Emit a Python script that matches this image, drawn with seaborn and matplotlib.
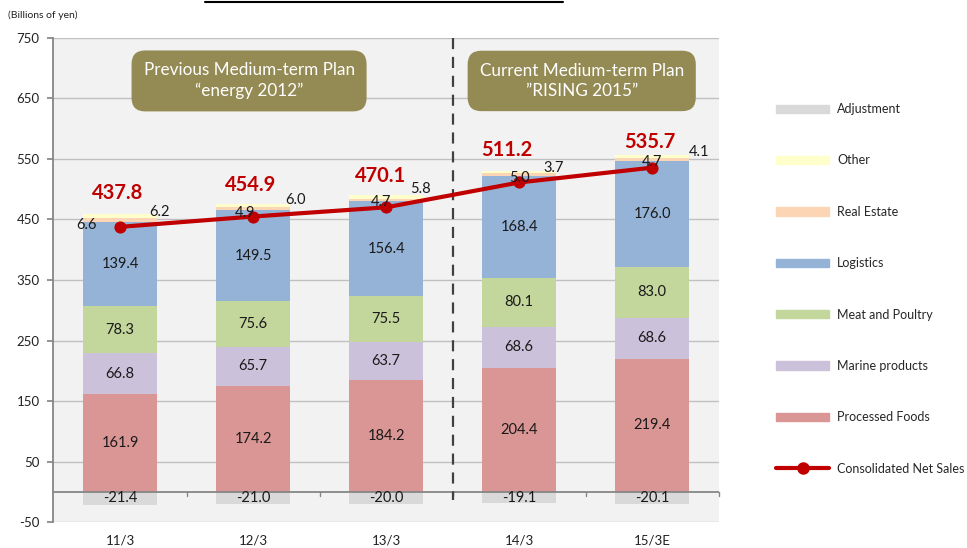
import numpy as np
import pandas as pd
import matplotlib
matplotlib.use("Agg")
import matplotlib.pyplot as plt
from matplotlib.lines import Line2D
from matplotlib.patches import Patch
import seaborn as sns

# ---- data ----
periods = ["11/3", "12/3", "13/3", "14/3", "15/3E"]
processed_foods = [161.9, 174.2, 184.2, 204.4, 219.4]
marine_products = [66.8, 65.7, 63.7, 68.6, 68.6]
meat_poultry = [78.3, 75.6, 75.5, 80.1, 83.0]
logistics = [139.4, 149.5, 156.4, 168.4, 176.0]
real_estate = [6.6, 4.9, 4.7, 5.0, 4.7]
other = [6.2, 6.0, 5.8, 3.7, 4.1]
adjustment = [-21.4, -21.0, -20.0, -19.1, -20.1]
net_sales = [437.8, 454.9, 470.1, 511.2, 535.7]
y_ticks = [750, 650, 550, 450, 350, 250, 150, 50, -50]

segments = ["Processed Foods", "Marine products", "Meat and Poultry",
            "Logistics", "Real Estate", "Other"]
seg_values = [processed_foods, marine_products, meat_poultry,
              logistics, real_estate, other]
colors = {
    "Processed Foods": "#D99694",
    "Marine products": "#CCC1DA",
    "Meat and Poultry": "#C3D69B",
    "Logistics": "#95B3D7",
    "Real Estate": "#FCD5B5",
    "Other": "#FFFFCC",
    "Adjustment": "#D9D9D9",
}
line_color = "#C00000"

sns.set_theme(style="white")
plt.rcParams["font.family"] = ["Lato", "DejaVu Sans"]

fig = plt.figure(figsize=(9.67, 5.48), dpi=100)
ax = fig.add_axes([0.0553, 0.0474, 0.688, 0.8833])
ax.set_facecolor("#F2F2F2")

# horizontal grid
for t in y_ticks:
    ax.axhline(t, color="#C0C0C0", lw=1.0, zorder=0)

vals = np.array(seg_values)
cum = np.cumsum(vals, axis=0)
bw = 0.556
# draw cumulative bars from top down so lower segments overlay
for i in range(len(segments) - 1, -1, -1):
    df = pd.DataFrame({"period": periods, "v": cum[i]})
    sns.barplot(data=df, x="period", y="v", color=colors[segments[i]],
                saturation=1, width=bw, ax=ax, zorder=2, linewidth=0)
df_adj = pd.DataFrame({"period": periods, "v": adjustment})
sns.barplot(data=df_adj, x="period", y="v", color=colors["Adjustment"],
            saturation=1, width=bw, ax=ax, zorder=2, linewidth=0)

# zero axis line and boundary ticks
ax.axhline(0, color="#868686", lw=1.3, zorder=3)
for b in [0.5, 1.5, 2.5, 3.5, 4.5]:
    ax.plot([b, b], [0, -7], color="#868686", lw=1.0, zorder=3, clip_on=False)

# segment labels
fs = 10.5
re_dx = [-0.25, -0.06, -0.04, 0.0, 0.0]
re_dy = [-6, -5, -1, -3.5, -2]
ot_dx = [0.30, 0.32, 0.26, 0.26, 0.35]
ot_dy = [3, 7, 10, 5, 5]
for j in range(len(periods)):
    base = 0
    for i in range(4):
        v = vals[i, j]
        ax.text(j, base + v / 2, f"{v:.1f}", ha="center", va="center",
                fontsize=fs, color="#1a1a1a", zorder=6)
        base += v
    ax.text(j + re_dx[j], cum[3, j] + re_dy[j], f"{real_estate[j]:.1f}",
            ha="center", va="center", fontsize=fs, color="#1a1a1a", zorder=6)
    ax.text(j + ot_dx[j], cum[5, j] + ot_dy[j], f"{other[j]:.1f}",
            ha="center", va="center", fontsize=fs, color="#1a1a1a", zorder=6)
    ax.text(j, adjustment[j] / 2, f"{adjustment[j]:.1f}", ha="center",
            va="center", fontsize=fs, color="#1a1a1a", zorder=6)

# net sales line
sns.lineplot(x=np.arange(len(periods)), y=net_sales, color=line_color,
             lw=3, marker="o", markersize=8, markeredgecolor=line_color,
             ax=ax, zorder=5)
tot_dx = [-0.02, -0.02, -0.045, -0.09, -0.015]
tot_dy = [34.5, 31, 32, 35, 22]
for j, t in enumerate(net_sales):
    ax.text(j + tot_dx[j], cum[5, j] + tot_dy[j], f"{t:.1f}", ha="center",
            va="center", fontsize=14.5, fontweight="bold", color=line_color,
            zorder=6)

# dashed divider
ax.plot([2.5, 2.5], [750, -14], color="#404040", lw=1.6,
        linestyle=(0, (5, 3.5)), zorder=4)

# plan boxes
box = dict(boxstyle="round,pad=0.7,rounding_size=0.8", fc="#948A54",
           ec="none")
ax.text(0.97, 679, "Previous Medium-term Plan\n\u201cenergy 2012\u201d",
        ha="center", va="center", color="white", fontsize=12.3,
        linespacing=1.35, bbox=box, zorder=7)
ax.text(3.47, 679, "Current Medium-term Plan\n\u201dRISING 2015\u201d",
        ha="center", va="center", color="white", fontsize=12.3,
        linespacing=1.35, bbox=box, zorder=7)

ax.set_xlim(-0.5, 4.5)
ax.set_ylim(-50, 750)
ax.set_yticks(y_ticks)
ax.set_yticklabels([str(t) for t in y_ticks], fontsize=9.5, color="#222222")
ax.tick_params(axis="y", left=True, length=4, color="#868686", pad=6)
ax.tick_params(axis="x", bottom=False, labelsize=9.5, colors="#222222", pad=3)
ax.set_xlabel("")
ax.set_ylabel("")
for s in ["top", "right", "bottom"]:
    ax.spines[s].set_visible(False)
ax.spines["left"].set_color("#868686")
ax.spines["left"].set_linewidth(1.3)

# legend
handles = [Patch(color=colors["Adjustment"]), Patch(color=colors["Other"]),
           Patch(color=colors["Real Estate"]), Patch(color=colors["Logistics"]),
           Patch(color=colors["Meat and Poultry"]),
           Patch(color=colors["Marine products"]),
           Patch(color=colors["Processed Foods"]),
           Line2D([], [], color=line_color, lw=3, marker="o", markersize=8)]
labels = ["Adjustment", "Other", "Real Estate", "Logistics",
          "Meat and Poultry", "Marine products", "Processed Foods",
          "Consolidated Net Sales"]
fig.legend(handles, labels, loc="upper left", bbox_to_anchor=(0.797, 0.821),
           frameon=False, fontsize=9, handlelength=4.3, handleheight=0.65,
           labelspacing=3.15, handletextpad=0.6, borderaxespad=0)

fig.text(0.008, 0.972, "(Billions of yen)", fontsize=7.5, color="#222222",
         va="center")
fig.add_artist(Line2D([205 / 967, 563 / 967], [1 - 2 / 548, 1 - 2 / 548],
                      color="black", lw=1.5))

fig.savefig("out.png", dpi=100)
